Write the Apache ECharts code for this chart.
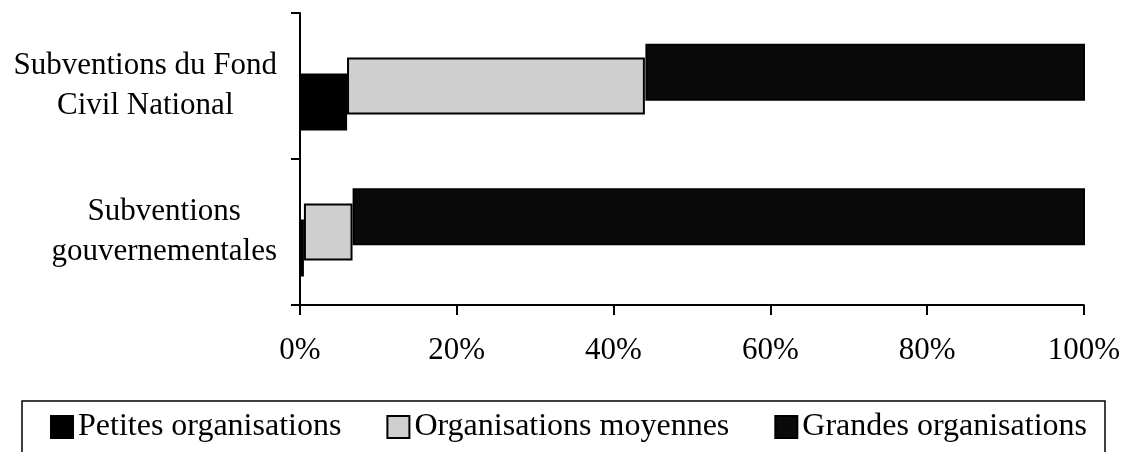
<!DOCTYPE html>
<html><head><meta charset="utf-8">
<script src="https://cdn.jsdelivr.net/npm/echarts@6/dist/echarts.min.js"></script>
<style>html,body{margin:0;padding:0;background:#fff}#c{width:1123px;height:452px}</style>
</head><body><div id="c"></div>
<script>
const categories = ['Subventions du Fond\nCivil National', 'Subventions\ngouvernementales'];
const seriesNames = ['Petites organisations', 'Organisations moyennes', 'Grandes organisations'];
const petites = [6, 0.5];
const moyennes = [38, 6.2];
const grandes = [56, 93.3];
const xTicks = [0, 20, 40, 60, 80, 100];

const FONT = 'Liberation Serif';
const chart = echarts.init(document.getElementById('c'), null, {renderer: 'canvas'});
const gridBase = {left: 300, width: 785, height: 292};
const xMin = xTicks[0], xMax = xTicks[xTicks.length - 1], xInt = xTicks[1] - xTicks[0];

function xAx(idx, show) {
  return {
    gridIndex: idx, type: 'value', min: xMin, max: xMax, interval: xInt, show: show,
    axisLine: {show: true, lineStyle: {color: '#000', width: 2}},
    axisTick: {show: true, length: 10, lineStyle: {color: '#000', width: 2}},
    splitLine: {show: false},
    axisLabel: {formatter: '{value}%', color: '#000', fontFamily: FONT, fontSize: 31, margin: 30}
  };
}
function yAx(idx, show) {
  return {
    gridIndex: idx, type: 'category', data: categories, inverse: true, show: show,
    axisLine: {show: true, lineStyle: {color: '#000', width: 2}},
    axisTick: {show: true, length: 9, lineStyle: {color: '#000', width: 2}},
    axisLabel: {
      color: '#000', fontFamily: FONT, fontSize: 31, margin: 23, align: 'right',
      formatter: v => v.split('\n').map(s => '{c|' + s + '}').join('\n'),
      rich: {c: {align: 'center', fontFamily: FONT, fontSize: 31, lineHeight: 40, color: '#000'}}
    }
  };
}
const BW = 57;
const border = {borderColor: '#000', borderWidth: 2};
const hidden = {color: 'transparent', borderWidth: 0};
function bar(name, data, xi, stack, style, silent) {
  return {name, type: 'bar', data, xAxisIndex: xi, yAxisIndex: xi, stack, barWidth: BW,
    itemStyle: style, silent: !!silent, emphasis: {disabled: true}};
}

chart.setOption({
  animation: false,
  backgroundColor: '#fff',
  grid: [
    Object.assign({top: 13}, gridBase),
    Object.assign({top: 29}, gridBase),
    Object.assign({top: -3}, gridBase)
  ],
  xAxis: [xAx(0, true), xAx(1, false), xAx(2, false)],
  yAxis: [yAx(0, true), yAx(1, false), yAx(2, false)],
  legend: {
    data: seriesNames, left: 22, top: 401, orient: 'horizontal',
    padding: [10, 18, 40, 28], borderColor: '#000', borderWidth: 1.5,
    itemWidth: 22, itemHeight: 22, itemGap: 45, icon: 'rect',
    textStyle: {color: '#000', fontFamily: FONT, fontSize: 32}
  },
  series: [
    bar(seriesNames[0], petites, 1, 'p', Object.assign({color: '#000'}, border)),
    bar('_b1', petites, 0, 'm', hidden, true),
    bar(seriesNames[1], moyennes, 0, 'm', Object.assign({color: '#cfcfcf'}, border)),
    bar('_b2', petites, 2, 'g', hidden, true),
    bar('_b3', moyennes, 2, 'g', hidden, true),
    bar(seriesNames[2], grandes, 2, 'g', Object.assign({color: '#0a0a0a'}, border))
  ]
});
</script></body></html>
